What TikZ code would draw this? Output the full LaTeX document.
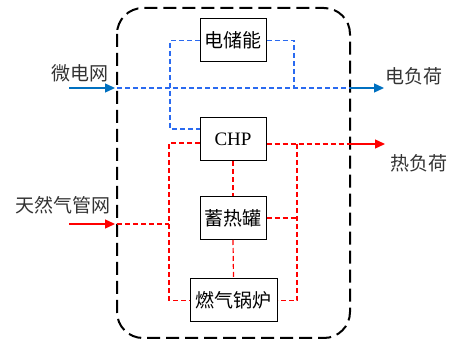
\documentclass[tikz,border=0pt]{standalone}
\usepackage{fontspec}
\setmainfont{Liberation Serif}
\newfontfamily\cjk{Noto Sans CJK SC}
\usetikzlibrary{arrows.meta}
\definecolor{arrblue}{HTML}{0070C0}
\definecolor{dashblue}{HTML}{2A6AF0}
\definecolor{txtgray}{HTML}{333333}
\tikzset{
  box/.style={draw, line width=1pt, minimum height=43pt, inner sep=0pt, text=black, font=\fontsize{19}{22}\selectfont},
  lbl/.style={text=txtgray, font=\cjk\fontsize{19}{22}\selectfont, inner sep=0pt},
  bluedash/.style={dashblue, line width=1.2pt, dash pattern=on 5pt off 3pt},
  reddash/.style={red, line width=1.2pt, dash pattern=on 5pt off 3pt},
  bluearrow/.style={arrblue, line width=1.3pt, -{Triangle[length=10pt,width=9pt]}},
  redarrow/.style={red, line width=1.3pt, -{Triangle[length=10pt,width=9pt]}},
  framedash/.style={black, line width=2pt, dash pattern=on 13pt off 6pt},
}
\begin{document}
\begin{tikzpicture}[x=1pt,y=-1pt]
\useasboundingbox (0,0) rectangle (451,345);
% frame
\draw[framedash, rounded corners=26pt] (117,8) rectangle (350,338);
% boxes
\node[box, minimum width=66pt, font=\cjk\fontsize{19}{22}\selectfont] (es) at (233,40.5) {电储能};
\node[box, minimum width=66pt] (chp) at (233,139.5) {CHP};
\node[box, minimum width=66pt, font=\cjk\fontsize{19}{22}\selectfont] (tank) at (233,218) {蓄热罐};
\node[box, minimum width=87pt, font=\cjk\fontsize{19}{22}\selectfont] (boiler) at (233.5,300.5) {燃气锅炉};
% labels
\node[lbl] (mg) at (80,73) {微电网};
\node[lbl] (el) at (414,76) {电负荷};
\node[lbl] (hl) at (419,163) {热负荷};
\node[lbl] (gas) at (63,205) {天然气管网};
% coordinates
\coordinate (mgin) at (69,88);
\coordinate (mgend) at (115,88);
\coordinate (fL) at (117,88);
\coordinate (fR) at (350,88);
\coordinate (elout) at (384,88);
\coordinate (bL) at (170,129);
\coordinate (bR) at (294,88);
\coordinate (gin) at (69,224);
\coordinate (gend) at (115,224);
\coordinate (gL) at (117,224);
\coordinate (rL) at (169,143);
\coordinate (rG) at (169,224);
\coordinate (hR) at (350,144);
\coordinate (hout) at (385,144);
\coordinate (rV) at (297,144);
% electric
\draw[bluearrow] (mgin) -- (mgend);
\draw[bluedash] (fL) -- (fR);
\draw[bluearrow] (fR) -- (elout);
\draw[bluedash] (es.east) -| (bR);
\draw[bluedash] (es.west) -| (bL) -- (bL -| chp.west);
% heat / gas
\draw[redarrow] (gin) -- (gend);
\draw[reddash] (gL) -- (rG);
\draw[reddash] (rL -| chp.west) -- (rL) |- (boiler.west);
\draw[reddash] (hR -| chp.east) -- (hR);
\draw[redarrow] (hR) -- (hout);
\draw[reddash] (rV) |- (boiler.east);
\draw[reddash] (tank.east) -- (tank.east -| rV);
\draw[reddash] (chp.south) -- (tank.north);
\draw[reddash] (tank.south) -- (boiler.north);
\end{tikzpicture}
\end{document}
